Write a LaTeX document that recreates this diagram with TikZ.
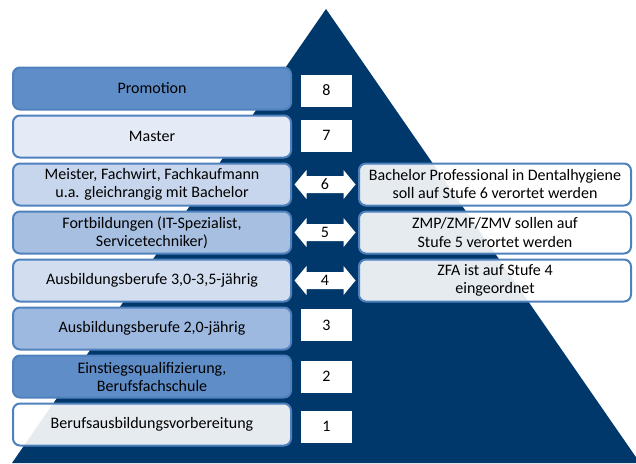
\documentclass[tikz,border=0pt]{standalone}
\usepackage{fontspec}
\setmainfont{Carlito}
\usepackage{tikz}
\usetikzlibrary{calc}
\definecolor{pyramide}{RGB}{0,56,108}
\definecolor{rahmen}{RGB}{79,129,189}
\definecolor{stufeA}{RGB}{95,141,199}
\definecolor{stufeB}{RGB}{228,235,246}
\definecolor{stufeC}{RGB}{199,214,236}
\definecolor{stufeD}{RGB}{167,191,225}
\definecolor{stufeE}{RGB}{210,222,240}
\definecolor{stufeF}{RGB}{158,185,224}

\begin{document}
\begin{tikzpicture}
	[
		x=1pt, y=-1pt,
		every node/.style = {font=\fontsize{16}{18}\selectfont, align=center, inner sep=0pt},
		stufe/.style = {draw=rahmen, line width=2pt, rounded corners=7pt, minimum width=278pt, minimum height=42pt},
		hinweis/.style = {stufe, fill=white, fill opacity=0.9, text opacity=1, minimum width=272pt},
		nummer/.style = {fill=white, minimum width=51pt, minimum height=32pt},
		pfeil/.style = {fill=white, insert path={++(-30.5,0) -- ++(12,-14.5) -- ++(0,6) -- ++(37,0) -- ++(0,-6) -- ++(12,14.5) -- ++(-12,14.5) -- ++(0,-6) -- ++(-37,0) -- ++(0,6) -- cycle}},
	]

  \useasboundingbox (0,0) rectangle (636,463);
  \fill[pyramide] (326,9) -- (640,463) -- (12,463) -- cycle;

  \node[stufe, fill=stufeA] (S8) at (152,88.5) {Promotion};
  \node[nummer] (N8) at (326.5,90.5) {8};
  \node[stufe, fill=stufeB] (S7) at (152,136.5) {Master};
  \node[nummer] (N7) at (326.5,135.5) {7};

  \node[stufe, fill=stufeC] (S6) at (152,184.5) {Meister, Fachwirt, Fachkaufmann\\u.a. gleichrangig mit Bachelor};
  \node[hinweis] (H6) at (495,184.5) {Bachelor Professional in Dentalhygiene\\soll auf Stufe 6 verortet werden};
  \node[stufe, fill=stufeD] (S5) at (152,232.5) {Fortbildungen (IT-Spezialist,\\Servicetechniker)};
  \node[hinweis] (H5) at (495,232.5) {ZMP/ZMF/ZMV sollen auf\\Stufe 5 verortet werden};
  \node[stufe, fill=stufeE] (S4) at (152,280.5) {Ausbildungsberufe 3,0-3,5-jährig};
  \node[hinweis] (H4) at (495,280.5) {ZFA ist auf Stufe 4\\eingeordnet};

  % Doppelpfeile zwischen Stufe und Hinweis
  \coordinate (P6) at ($(S6.east)!0.5!(H6.west)$);
  \coordinate (P5) at ($(S5.east)!0.5!(H5.west)$);
  \coordinate (P4) at ($(S4.east)!0.5!(H4.west)$);
  \path (P6) [pfeil] (P6) node (Z6) {6};
  \path (P5) [pfeil] (P5) node (Z5) {5};
  \path (P4) [pfeil] (P4) node (Z4) {4};

  \node[stufe, fill=stufeF] (S3) at (152,328.5) {Ausbildungsberufe 2,0-jährig};
  \node[nummer] (N3) at (326.5,325) {3};
  \node[stufe, fill=stufeA] (S2) at (152,376.5) {Einstiegsqualifizierung,\\Berufsfachschule};
  \node[nummer] (N2) at (326.5,376.5) {2};
  \node[stufe, fill=white, fill opacity=0.9, text opacity=1] (S1) at (152,424.5) {Berufsausbildungsvorbereitung};
  \node[nummer] (N1) at (326.5,426.5) {1};

\end{tikzpicture}
\end{document}
